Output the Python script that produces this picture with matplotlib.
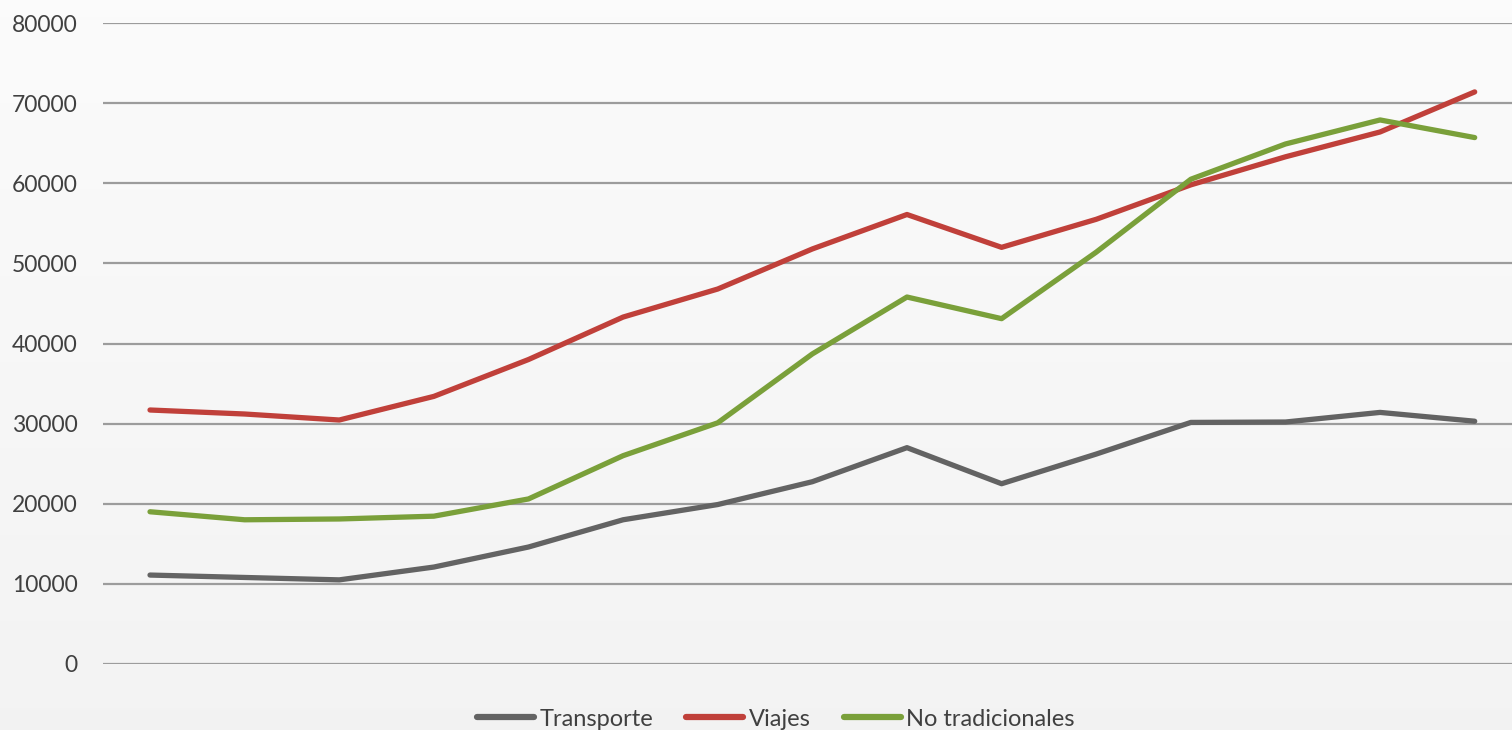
import numpy as np
import matplotlib
matplotlib.use("Agg")
import matplotlib.pyplot as plt

# values (15 periods, no x labels shown)
periods = list(range(15))
transporte = [11100, 10800, 10500, 12100, 14600, 18000, 19900, 22750,
              27000, 22500, 26200, 30150, 30200, 31400, 30300]
viajes = [31700, 31200, 30450, 33400, 38000, 43300, 46800, 51800,
          56100, 52000, 55500, 59800, 63300, 66400, 71400]
no_tradicionales = [19000, 18000, 18100, 18450, 20600, 26000, 30100, 38700,
                    45800, 43100, 51400, 60500, 64900, 67900, 65700]

series_names = ["Transporte", "Viajes", "No tradicionales"]
colors = ["#636363", "#c0403a", "#7aa03a"]

plt.rcParams['font.family'] = ['Lato', 'DejaVu Sans']

fig = plt.figure(figsize=(15.12, 7.30), dpi=100)

# light vertical gradient background
bg = fig.add_axes([0, 0, 1, 1], zorder=-10)
grad = np.linspace(0.985, 0.952, 256).reshape(-1, 1)
bg.imshow(np.dstack([grad, grad, grad]), aspect="auto", extent=[0, 1, 0, 1])
bg.axis("off")

ax = fig.add_axes([102.7 / 1512, 66 / 730, (1522 - 102.7) / 1512, (707 - 66) / 730])
ax.patch.set_alpha(0)

for vals, name, c in zip([transporte, viajes, no_tradicionales], series_names, colors):
    ax.plot(periods, vals, color=c, lw=3.8, label=name,
            solid_capstyle="round", solid_joinstyle="round", zorder=3)

ax.set_xlim(-0.5, 14.5)
ax.set_ylim(0, 80000)
ax.set_yticks(np.arange(0, 80001, 10000))
ax.set_xticks([])
ax.yaxis.grid(True, color="#9c9c9c", lw=1.6, zorder=1)
ax.set_axisbelow(True)
for s in ax.spines.values():
    s.set_visible(False)
ax.tick_params(axis="y", length=0, pad=18, labelsize=16.5, labelcolor="#404040")

leg = fig.legend(loc="center", bbox_to_anchor=(776 / 1512, 1 - 719 / 730),
                 ncol=3, frameon=False, fontsize=17, handlelength=2.4,
                 handletextpad=0.25, columnspacing=1.4, labelcolor="#404040")
for line in leg.get_lines():
    line.set_linewidth(4.5)

fig.savefig("out.png", dpi=100)
